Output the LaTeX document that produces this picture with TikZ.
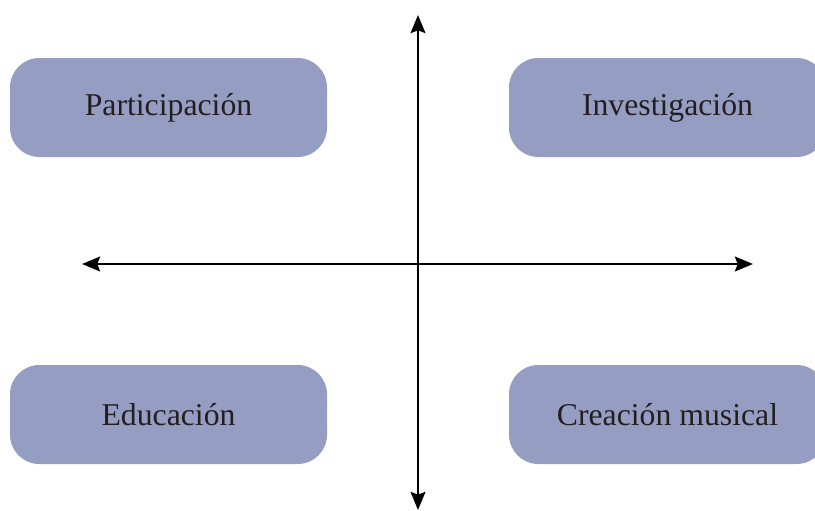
\documentclass[tikz,border=0pt]{standalone}
\usepackage{fontspec}
\setmainfont{Liberation Serif}
\usetikzlibrary{arrows.meta}
\definecolor{boxblue}{RGB}{150,157,194}
\definecolor{ink}{RGB}{35,31,32}
\begin{document}
\begin{tikzpicture}[x=0.75pt,y=-0.75pt,>={Stealth[length=13.5pt,width=11pt,inset=2pt]},line join=round,
	area/.style={fill=boxblue,rounded corners=22pt,minimum width=237.75pt,minimum height=74.25pt,inner sep=0pt,text=ink,font=\fontsize{23.8}{28}\selectfont},
	axis/.style={line width=2pt,black,<->}]
				\useasboundingbox (0,0) rectangle (815,511);
				\path
				(418,15) coordinate (N) (418,510) coordinate (S)
				(82,264) coordinate (W) (753,264) coordinate (E);
				\node[area] (part) at (168.5,107.5) {Participación};
				\node[area] (inv) at (667.5,107.5) {Investigación};
				\node[area] (edu) at (168.5,414.5) {Educación};
				\node[area] (crea) at (667.5,414.5) {Creación musical};
				\draw[axis] (S)--(N);
				\draw[axis] (W)--(E);
	\end{tikzpicture}
\end{document}
